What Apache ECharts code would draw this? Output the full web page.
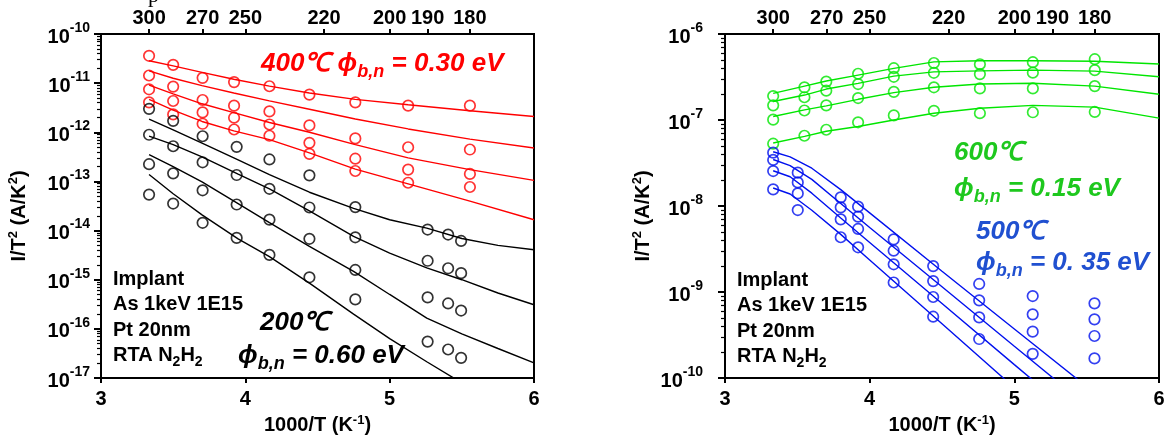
<!DOCTYPE html>
<html><head><meta charset="utf-8">
<script src="https://cdn.jsdelivr.net/npm/echarts@6/dist/echarts.min.js"></script>
<style>html,body{margin:0;padding:0;background:#fff}#c{width:1168px;height:444px}</style>
</head><body><div id="c"></div><script>
// ---------- tick labels ----------
const topTempsK = [300, 270, 250, 220, 200, 190, 180];      // top axis, temperature (K)
const leftYRange = [1e-17, 1e-10];
const rightYRange = [1e-10, 1e-6];

// ---------- LEFT PANEL ----------
// 400 C anneal (red), measured points: 4 devices per temperature
const red400X = [3.333, 3.5, 3.704, 3.922, 4.167, 4.444, 4.762, 5.128, 5.556];
const red400Y = [
  [3.6e-11, 1.43e-11, 7.5e-12, 4.07e-12],
  [2.36e-11, 8.5e-12, 4.33e-12, 2.31e-12],
  [1.28e-11, 4.54e-12, 2.54e-12, 1.49e-12],
  [1.05e-11, 3.48e-12, 1.98e-12, 1.14e-12],
  [8.65e-12, 2.66e-12, 1.44e-12, 8.5e-13],
  [5.83e-12, 1.38e-12, 6.1e-13, 3.63e-13],
  [4.07e-12, 7.5e-13, 2.9e-13, 1.63e-13],
  [3.48e-12, 4.96e-13, 1.74e-13, 9.4e-14],
  [3.48e-12, 4.46e-13, 1.42e-13, 7.7e-14]
];
const red400FitX = [3.333, 3.5, 3.7, 3.92, 4.167, 4.444, 4.762, 5.128, 5.556, 6.0];
const red400Fit1 = [2.85e-11, 2.24e-11, 1.66e-11, 1.20e-11, 8.71e-12, 6.31e-12, 4.68e-12, 3.63e-12, 2.75e-12, 2.09e-12];
const red400Fit2 = [1.78e-11, 1.26e-11, 8.91e-12, 6.31e-12, 4.37e-12, 2.95e-12, 1.86e-12, 1.17e-12, 7.24e-13, 4.79e-13];
const red400Fit3 = [9.12e-12, 6.03e-12, 3.80e-12, 2.51e-12, 1.58e-12, 1.0e-12, 5.62e-13, 3.02e-13, 1.74e-13, 1.05e-13];
const red400Fit4 = [4.68e-12, 2.82e-12, 1.66e-12, 1.07e-12, 7.08e-13, 3.80e-13, 1.78e-13, 8.91e-14, 3.98e-14, 1.66e-14];

// 200 C anneal (black)
const blk200X = [3.333, 3.5, 3.704, 3.94, 4.167, 4.444, 4.762, 5.263, 5.405, 5.495];
const blk200Y = [
  [3.0e-12, 8.9e-13, 2.24e-13, 5.4e-14],
  [1.71e-12, 5.2e-13, 1.46e-13, 3.55e-14],
  [8.3e-13, 2.45e-13, 6.6e-14, 1.44e-14],
  [5.05e-13, 1.35e-13, 3.39e-14, 7.1e-15],
  [2.8e-13, 7.08e-14, 1.67e-14, 3.2e-15],
  [1.33e-13, 2.95e-14, 6.8e-15, 1.12e-15],
  [3.0e-14, 7.3e-15, 1.58e-15, 3.98e-16],
  [1.05e-14, 2.43e-15, 4.36e-16, 5.5e-17],
  [8.3e-15, 1.71e-15, 3.29e-16, 3.8e-17],
  [6.15e-15, 1.36e-15, 2.36e-16, 2.57e-17]
];
const blk200FitX = [3.333, 3.5, 3.7, 3.95, 4.167, 4.444, 4.75, 5.0, 5.257, 5.5, 5.75, 6.0];
const blk200Fit1 = [1.86e-12, 1.12e-12, 6.03e-13, 2.75e-13, 1.38e-13, 6.03e-14, 2.82e-14, 1.66e-14, 1.12e-14, 6.9e-15, 5.01e-15, 4.07e-15];
const blk200Fit2 = [8.32e-13, 5.62e-13, 3.16e-13, 1.41e-13, 7.08e-14, 2.51e-14, 7.59e-15, 3.47e-15, 1.74e-15, 1.0e-15, 5.37e-16, 3.09e-16];
const blk200Fit3 = [3.51e-13, 2.0e-13, 9.77e-14, 3.55e-14, 1.45e-14, 4.79e-15, 1.48e-15, 5.01e-16, 1.66e-16, 7.94e-17, 3.98e-17, 2.04e-17];
const blk200Fit4 = [1.38e-13, 5.62e-14, 2.09e-14, 6.76e-15, 2.95e-15, 8.51e-16, 2.0e-16, 6.31e-17, 2.14e-17, 7.94e-18];

// ---------- RIGHT PANEL ----------
// 600 C anneal (green)
const grn600X = [3.333, 3.549, 3.70, 3.92, 4.167, 4.444, 4.762, 5.128, 5.556];
const grn600Y = [
  [1.9e-7, 1.48e-7, 1.01e-7, 5.3e-8],
  [2.4e-7, 1.84e-7, 1.29e-7, 6.56e-8],
  [2.79e-7, 2.19e-7, 1.48e-7, 7.7e-8],
  [3.45e-7, 2.62e-7, 1.8e-7, 9.4e-8],
  [4.0e-7, 3.18e-7, 2.12e-7, 1.13e-7],
  [4.6e-7, 3.54e-7, 2.4e-7, 1.28e-7],
  [4.45e-7, 3.42e-7, 2.33e-7, 1.2e-7],
  [4.7e-7, 3.55e-7, 2.33e-7, 1.23e-7],
  [5.09e-7, 3.8e-7, 2.48e-7, 1.24e-7]
];
const grn600FitX = [3.333, 3.55, 3.7, 3.92, 4.167, 4.444, 4.762, 5.128, 5.556, 6.0];
const grn600Fit1 = [2.04e-7, 2.48e-7, 2.84e-7, 3.33e-7, 3.98e-7, 4.74e-7, 4.88e-7, 4.88e-7, 4.83e-7, 4.47e-7];
const grn600Fit2 = [1.64e-7, 1.95e-7, 2.29e-7, 2.67e-7, 3.24e-7, 3.63e-7, 3.73e-7, 3.80e-7, 3.70e-7, 3.18e-7];
const grn600Fit3 = [1.10e-7, 1.31e-7, 1.46e-7, 1.74e-7, 2.08e-7, 2.40e-7, 2.62e-7, 2.67e-7, 2.48e-7, 1.99e-7];
const grn600Fit4 = [5.40e-8, 6.46e-8, 7.41e-8, 8.41e-8, 1.0e-7, 1.2e-7, 1.37e-7, 1.48e-7, 1.41e-7, 1.05e-7];

// 500 C anneal (blue)
const blu500X = [3.333, 3.503, 3.80, 3.92, 4.166, 4.439, 4.757, 5.127, 5.554];
const blu500Y = [
  [4.17e-8, 3.43e-8, 2.55e-8, 1.56e-8],
  [2.44e-8, 1.88e-8, 1.40e-8, 8.97e-9],
  [1.26e-8, 9.64e-9, 7.0e-9, 4.33e-9],
  [9.82e-9, 7.52e-9, 5.41e-9, 3.31e-9],
  [4.09e-9, 3.02e-9, 2.1e-9, 1.29e-9],
  [2.0e-9, 1.34e-9, 8.75e-10, 5.16e-10],
  [1.24e-9, 8.0e-10, 5.07e-10, 2.84e-10],
  [8.97e-10, 5.5e-10, 3.46e-10, 1.91e-10],
  [7.38e-10, 4.81e-10, 3.08e-10, 1.69e-10]
];
const blu500FitX = [3.333, 3.45, 3.6, 3.8, 4.0, 4.5, 5.0, 5.5];
const blu500Fit1 = [4.27e-8, 3.72e-8, 2.75e-8, 1.55e-8, 8.32e-9, 1.74e-9, 3.72e-10, 7.94e-11];
const blu500Fit2 = [3.47e-8, 2.95e-8, 2.04e-8, 1.07e-8, 5.62e-9, 1.15e-9, 2.34e-10, 4.79e-11];
const blu500Fit3 = [2.57e-8, 2.19e-8, 1.41e-8, 7.24e-9, 3.77e-9, 7.35e-10, 1.43e-10, 2.82e-11];
const blu500Fit4 = [1.62e-8, 1.38e-8, 8.91e-9, 4.68e-9, 2.36e-9, 4.27e-10, 7.7e-11, 1.39e-11];

// ---------- colours ----------
const C_RED = '#ff0000', C_BLK = '#000000', C_GRN = '#00e600', C_BLU = '#0010ee';
const C_GRN_TXT = '#1ec81e', C_BLU_TXT = '#2050d0';
const FONT = '"Liberation Sans", Arial, Helvetica, sans-serif';

// ---------- builders ----------
function pts(xs, ys) { const out = []; xs.forEach((x, i) => ys[i].forEach(v => out.push([x, v]))); return out; }
function pairs(xs, ys) { return ys.map((v, i) => [xs[i], v]); }
function scatter(g, data, color) {
  return { type: 'scatter', xAxisIndex: g * 2, yAxisIndex: g * 2, data, symbol: 'circle', symbolSize: 10.5,
    itemStyle: { color: 'rgba(0,0,0,0)', borderColor: color, borderWidth: 1.7 }, silent: true, z: 3 };
}
function fit(g, xs, ys, color) {
  return { type: 'line', xAxisIndex: g * 2, yAxisIndex: g * 2, data: pairs(xs, ys), symbol: 'none', showSymbol: false,
    lineStyle: { color, width: 1.4 }, clip: true, silent: true, z: 2 };
}
const tempX = topTempsK.map(t => 1000 / t);
// minor log-tick positions (log10 of 2..9 x 10^e), drawn on a hidden linear companion axis
function minorLogPos(range) {
  const out = []; const e0 = Math.round(Math.log10(range[0])), e1 = Math.round(Math.log10(range[1]));
  for (let e = e0; e < e1; e++) for (let k = 2; k <= 9; k++) out.push(e + Math.log10(k));
  return out;
}
const lblStyle = { fontFamily: FONT, fontWeight: 'bold', fontSize: 20, color: '#000' };
const nameRich = {
  sup: { fontFamily: FONT, fontWeight: 'bold', fontSize: 13, color: '#000', verticalAlign: 'top', lineHeight: 24 }
};
function xAxes(g) {
  return [
    { gridIndex: g, type: 'value', position: 'bottom', min: 3, max: 6, interval: 1,
      axisLine: { show: true, lineStyle: { color: '#000', width: 2 } },
      axisTick: { show: true, inside: false, length: 5, lineStyle: { color: '#000', width: 2 } },
      axisLabel: Object.assign({ margin: 11 }, lblStyle), splitLine: { show: false },
      name: '1000/T (K{sup|-1})', nameLocation: 'middle', nameGap: 29,
      nameTextStyle: { fontFamily: FONT, fontWeight: 'bold', fontSize: 20, color: '#000', lineHeight: 24, rich: nameRich } },
    { gridIndex: g, type: 'value', position: 'top', min: 3, max: 6,
      axisLine: { show: true, lineStyle: { color: '#000', width: 2 } },
      axisTick: { show: true, inside: false, length: 5, customValues: tempX, lineStyle: { color: '#000', width: 2 } },
      axisLabel: Object.assign({ margin: 6, customValues: tempX, formatter: v => String(Math.round(1000 / v)) }, lblStyle),
      splitLine: { show: false } }
  ];
}
function yAxes(g, range, margin) {
  const lo = Math.round(Math.log10(range[0])), hi = Math.round(Math.log10(range[1]));
  return [
    { gridIndex: g, type: 'log', logBase: 10, position: 'left', min: range[0], max: range[1],
      axisLine: { show: true, lineStyle: { color: '#000', width: 2 } },
      axisTick: { show: true, inside: false, length: 7, lineStyle: { color: '#000', width: 2 } },
      axisLabel: { margin, formatter: v => '{b|10}{s|' + Math.round(Math.log10(v)) + '}',
        rich: { b: { fontFamily: FONT, fontWeight: 'bold', fontSize: 20, color: '#000', lineHeight: 26, verticalAlign: 'bottom' },
                s: { fontFamily: FONT, fontWeight: 'bold', fontSize: 14, color: '#000', verticalAlign: 'top', lineHeight: 26 } } },
      splitLine: { show: false },
      name: 'I/T{sup|2} (A/K{sup|2})', nameLocation: 'middle', nameGap: 70, nameRotate: 90,
      nameTextStyle: { fontFamily: FONT, fontWeight: 'bold', fontSize: 20, color: '#000', lineHeight: 24, rich: nameRich, padding: [0, 20, 0, 0] } },
    { gridIndex: g, type: 'value', position: 'left', min: lo, max: hi,
      axisLine: { show: false }, axisLabel: { show: false }, splitLine: { show: false },
      axisTick: { show: true, inside: false, length: 4, customValues: minorLogPos(range), lineStyle: { color: '#000', width: 1.2 } } }
  ];
}
const subRich = (fs, color) => ({
  sub: { fontFamily: FONT, fontWeight: 'bold', fontStyle: 'italic', fontSize: Math.round(fs * 0.68), fill: color, verticalAlign: 'bottom', lineHeight: fs + 8 },
  m: { fontFamily: FONT, fontWeight: 'bold', fontStyle: 'italic', fontSize: fs, fill: color, lineHeight: fs + 8 }
});
function note(x, y, text, color, fs, italic) {
  const r = subRich(fs, color);
  if (!italic) { r.sub.fontStyle = 'normal'; r.m.fontStyle = 'normal'; }
  return { type: 'text', x, y, z: 10, silent: true,
    style: { text, rich: r, fill: color, fontFamily: FONT, fontWeight: 'bold', fontStyle: italic ? 'italic' : 'normal', fontSize: fs, verticalAlign: 'middle', align: 'left' } };
}
function infoBlock(x, y0) {
  return [
    note(x, y0, '{m|Implant}', '#000', 20, false),
    note(x, y0 + 25.5, '{m|As 1keV 1E15}', '#000', 20, false),
    note(x, y0 + 51, '{m|Pt 20nm}', '#000', 20, false),
    note(x, y0 + 76, '{m|RTA N}{sub|2}{m|H}{sub|2}', '#000', 20, false)
  ];
}

const series = [];
[red400Fit1, red400Fit2, red400Fit3, red400Fit4].forEach(f => series.push(fit(0, red400FitX, f, C_RED)));
[blk200Fit1, blk200Fit2, blk200Fit3].forEach(f => series.push(fit(0, blk200FitX, f, C_BLK)));
series.push(fit(0, blk200FitX.slice(0, blk200Fit4.length), blk200Fit4, C_BLK));
series.push(scatter(0, pts(red400X, red400Y), C_RED));
series.push(scatter(0, pts(blk200X, blk200Y), C_BLK));
[grn600Fit1, grn600Fit2, grn600Fit3, grn600Fit4].forEach(f => series.push(fit(1, grn600FitX, f, C_GRN)));
[blu500Fit1, blu500Fit2, blu500Fit3, blu500Fit4].forEach(f => series.push(fit(1, blu500FitX, f, C_BLU)));
series.push(scatter(1, pts(grn600X, grn600Y), C_GRN));
series.push(scatter(1, pts(blu500X, blu500Y), C_BLU));

const option = {
  animation: false,
  backgroundColor: '#fff',
  grid: [
    { left: 101, top: 34, width: 433, height: 344, show: true, borderColor: '#000', borderWidth: 2, backgroundColor: 'transparent' },
    { left: 725, top: 34, width: 434, height: 344, show: true, borderColor: '#000', borderWidth: 2, backgroundColor: 'transparent' }
  ],
  xAxis: [...xAxes(0), ...xAxes(1)],
  yAxis: [...yAxes(0, leftYRange, 11), ...yAxes(1, rightYRange, 22)],
  series,
  graphic: [
    note(261, 64, '{m|400℃ ϕ}{sub|b,n}{m| = 0.30 eV}', C_RED, 26, true),
    note(260, 323, '{m|200℃}', '#000', 26, true),
    note(238, 356, '{m|ϕ}{sub|b,n}{m| = 0.60 eV}', '#000', 26, true),
    ...infoBlock(113, 279),
    note(954, 153, '{m|600℃}', C_GRN_TXT, 26, true),
    note(954, 189, '{m|ϕ}{sub|b,n}{m| = 0.15 eV}', C_GRN_TXT, 26, true),
    note(976, 232, '{m|500℃}', C_BLU_TXT, 26, true),
    note(976, 263, '{m|ϕ}{sub|b,n}{m| = 0. 35 eV}', C_BLU_TXT, 26, true),
    ...infoBlock(737, 280),
    { type: 'text', x: 148, y: -15, silent: true, style: { text: 'p', fill: '#000', fontFamily: '"Liberation Serif", "DejaVu Serif", serif', fontSize: 22 } }
  ]
};
const chart = echarts.init(document.getElementById('c'), null, { renderer: 'canvas' });
chart.setOption(option);
</script></body></html>
